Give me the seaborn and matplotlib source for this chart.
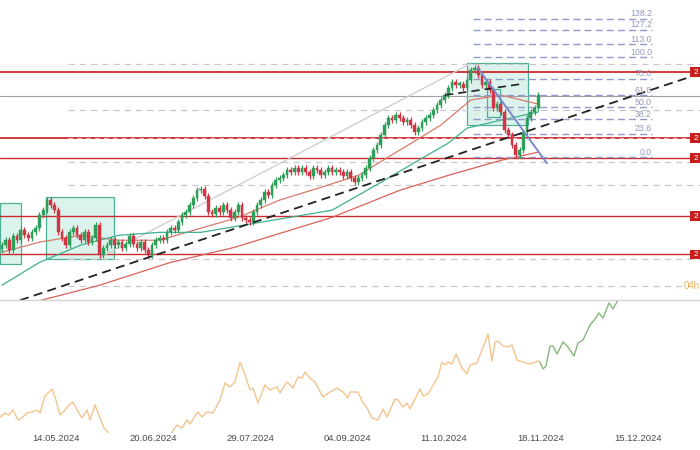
import numpy as np
import pandas as pd
import matplotlib
matplotlib.use("Agg")
import matplotlib.pyplot as plt
from matplotlib.patches import Rectangle
import seaborn as sns

sns.set_theme(style="white")
plt.rcParams['font.family'] = ['Liberation Sans Narrow', 'Liberation Sans', 'DejaVu Sans']

# ---------------- data (gold, daily candles) ----------------
closes = [2310, 2323, 2296, 2334, 2323, 2350, 2336, 2328, 2344, 2355,
          2390, 2403, 2430, 2416, 2403, 2344, 2328, 2310, 2344, 2355,
          2336, 2323, 2344, 2317, 2328, 2363, 2283, 2301, 2310, 2323,
          2310, 2317, 2301, 2312, 2334, 2312, 2301, 2317, 2296, 2283,
          2310, 2323, 2328, 2323, 2344, 2355, 2350, 2371, 2390, 2398,
          2416, 2435, 2456, 2460, 2440, 2398, 2392, 2408, 2398, 2416,
          2403, 2382, 2398, 2416, 2382, 2376, 2371, 2398, 2416, 2430,
          2451, 2443, 2470, 2483, 2488, 2496, 2510, 2504, 2515, 2504,
          2515, 2504, 2494, 2515, 2510, 2496, 2504, 2515, 2504, 2510,
          2504, 2494, 2504, 2488, 2478, 2488, 2496, 2515, 2542, 2563,
          2576, 2603, 2630, 2649, 2643, 2657, 2649, 2638, 2643, 2630,
          2611, 2622, 2638, 2649, 2657, 2670, 2683, 2697, 2710, 2729,
          2745, 2737, 2739, 2729, 2750, 2777, 2782, 2763, 2737, 2745,
          2723, 2675, 2686, 2665, 2617, 2603, 2576, 2550, 2563, 2611,
          2649, 2665, 2675, 2710]
first_open = 2300

fast_ma_idx = [0, 10, 21, 31, 42, 53, 63, 74, 85, 95, 106, 117, 125, 133, 143]
fast_ma_val = [2291, 2318, 2336, 2323, 2323, 2355, 2384, 2430, 2464, 2496, 2563, 2630, 2697, 2710, 2686]
mid_ma_idx = [0, 10, 21, 31, 42, 53, 88, 102, 111, 119, 124, 133, 143]
mid_ma_val = [2203, 2264, 2310, 2336, 2344, 2344, 2403, 2483, 2536, 2582, 2622, 2643, 2665]
slow_ma_idx = [0, 26, 45, 62, 88, 106, 119, 133, 143]
slow_ma_val = [2136, 2203, 2264, 2304, 2384, 2456, 2496, 2536, 2558]

red_levels = [2771, 2595, 2542, 2387, 2285]
gray_level = 2707
dashed_levels = [2793, 2670, 2531, 2470, 2272, 2200]
fib_low, fib_high = 2544, 2811
fib_ratios = [0.0, 23.6, 38.2, 50.0, 61.8, 78.6, 100.0, 113.0, 127.2, 138.2]

# lower panel: oscillator-like line
osc_t = [0, 5, 9, 13, 18, 22, 27, 32, 37, 40, 45, 49, 52, 56, 60, 65, 68, 73, 77, 82,
         87, 90, 95, 100, 104, 108, 112, 120, 135, 150, 162, 168, 172, 177, 182, 187, 190, 195,
         198, 202, 207, 213, 220, 225, 230, 235, 240, 245, 250, 253, 258, 265, 270, 277,
         280, 287, 293, 298, 302, 305, 310, 315, 323, 330, 337, 343, 348, 350, 358, 363,
         367, 372, 378, 383, 387, 395, 398, 403, 407, 410, 420, 423, 428, 438, 442, 445,
         448, 452, 456, 462, 467, 470, 477, 482, 488, 492, 495, 498, 503, 508, 512, 517,
         523, 530, 538, 540]
osc_v = [33, 37, 35, 40, 30, 32, 37, 38, 40, 37, 54, 58, 61, 50, 35, 40, 44, 48, 40, 32,
         40, 30, 45, 32, 22, 18, 12, 2, -5, -8, -2, 10, 18, 25, 22, 30, 26, 34,
         38, 33, 38, 37, 50, 67, 63, 68, 88, 75, 60, 62, 47, 65, 60, 63,
         57, 68, 62, 73, 72, 78, 72, 68, 53, 58, 62, 58, 52, 58, 58, 47,
         42, 32, 30, 41, 33, 51, 50, 43, 47, 41, 61, 54, 56, 73, 88, 85,
         88, 86, 96, 82, 76, 85, 87, 100, 116, 89, 108, 109, 104, 103, 105, 90,
         88, 86, 89, 88]
osc_green_t = [540, 543, 546, 550, 553, 557, 563, 568, 574, 578, 583, 590, 595, 599, 603, 609, 613, 618, 622]
osc_green_v = [88, 81, 84, 104, 104, 96, 108, 103, 94, 107, 110, 125, 131, 137, 132, 147, 141, 150, 156]

date_ticks = [56, 153, 250, 347, 444, 541, 638]
date_labels = ["14.05.2024", "20.06.2024", "29.07.2024", "04.09.2024",
               "11.10.2024", "18.11.2024", "15.12.2024"]

# ---------------- figure ----------------
fig = plt.figure(figsize=(7, 4.5), dpi=100)
ax = fig.add_axes([0, 150 / 450, 1, 300 / 450])
axb = fig.add_axes([0, 17 / 450, 1, 133 / 450])

UP = "#2e9e58"
DN = "#d13545"
TEAL = "#3aa88c"

n = len(closes)
idx = np.arange(n)
opens = [first_open] + closes[:-1]
o = np.array(opens, float)
c = np.array(closes, float)
hi = np.maximum(o, c) + 8
lo = np.minimum(o, c) - 8
cols = [UP if cc >= oo else DN for oo, cc in zip(o, c)]

ax.set_xlim(-0.53, 186.1)
ax.set_ylim(2163.6, 2963.6)
ax.axis("off")

# boxes
boxes = [(-0.53, 2258.7, 5.6, 163), (11.7, 2272, 18.2, 165.6),
         (124.0, 2629.9, 16.3, 165.5), (129.3, 2651, 3.5, 75)]
for bx, by, bw, bh in boxes:
    ax.add_patch(Rectangle((bx, by), bw, bh, facecolor="#d8f2ea", edgecolor=TEAL,
                           lw=0.9, alpha=0.9, zorder=1))

# horizontal levels
for lv in dashed_levels[:-1]:
    ax.plot([17.6, 186.1], [lv, lv], color="#c8c8cc", lw=0.9, ls=(0, (5, 4)), zorder=1.5)
ax.plot([17.6, 181.5], [dashed_levels[-1]] * 2, color="#c8c8cc", lw=0.9, ls=(0, (5, 4)), zorder=1.5)
ax.axhline(gray_level, color="#a0a0a0", lw=0.8, zorder=1.6)
for k, lv in enumerate(red_levels):
    ax.axhline(lv, color="#cc2a2a", lw=1.3 if k in (0, 1) else 1.0, zorder=1.7)
ax.plot([17.6, 186.1], [2595, 2595], color="#f0b8b8", lw=0.8, ls=(0, (4, 4)), zorder=1.8)

# trend lines
ax.plot([26.1, 124.8], [2277, 2793], color="#cfcfcf", lw=1.0, zorder=1.9)
ax.plot([4.8, 184.8], [2163, 2763], color="#222222", lw=1.3, ls=(0, (5, 3)), zorder=4)
ax.plot([118.1, 138.1], [2710, 2739], color="#222222", lw=1.2, ls=(0, (5, 3)), zorder=4)

# moving averages
sns.lineplot(x=fast_ma_idx, y=fast_ma_val, ax=ax, color="#d77a6a", lw=0.9, zorder=2)
sns.lineplot(x=mid_ma_idx, y=mid_ma_val, ax=ax, color="#3fb08e", lw=0.9, zorder=2)
sns.lineplot(x=slow_ma_idx, y=slow_ma_val, ax=ax, color="#d9625a", lw=0.9, zorder=2)

# candles
ax.vlines(idx, lo, hi, colors=cols, lw=0.9, zorder=3)
body = np.where(np.abs(c - o) < 4, 4, c - o)
ax.bar(idx, body, bottom=o, width=0.72, color=cols, edgecolor=cols, lw=0.3, zorder=3.2)

# fibonacci
for r in fib_ratios:
    lv = fib_low + r / 100 * (fib_high - fib_low)
    ax.plot([125.6, 173.3], [lv, lv], color="#9399c9", lw=1.0, ls=(0, (5, 3)), zorder=2.5)
    ax.text(173.3, lv + 1.5, f"{r:.1f}", ha="right", va="bottom", fontsize=6.3,
            color="#9499bb", zorder=5)

ax.plot([126.9, 145.3], [2782, 2528], color="#7d88c8", lw=1.4, zorder=4.5)

# right-hand price tags
for lv in red_levels:
    ax.add_patch(Rectangle((183.5, lv - 13), 3, 26, facecolor="#c81e1e",
                           edgecolor="none", zorder=6, clip_on=False))
    ax.text(184.4, lv, "2", color="white", fontsize=6, ha="left", va="center", zorder=7)
ax.text(181.7, 2200, "04h", color="#eab15a", fontsize=7, ha="left", va="center", zorder=7)

# ---------------- lower panel ----------------
sns.lineplot(x=osc_t, y=osc_v, ax=axb, color="#f3c48e", lw=1.0, sort=False)
sns.lineplot(x=osc_green_t, y=osc_green_v, ax=axb, color="#86b97c", lw=1.0, sort=False)
axb.set_xlim(0, 700)
axb.set_ylim(17, 150)
for s in ["left", "right", "bottom"]:
    axb.spines[s].set_visible(False)
axb.spines["top"].set_color("#d4d4d4")
axb.spines["top"].set_linewidth(1.0)
axb.set_yticks([])
axb.set_xticks(date_ticks)
axb.set_xticklabels(date_labels, fontsize=6.8, color="#4a4a4a")
axb.tick_params(axis="x", length=0, pad=1)
axb.set_xlabel("")
axb.set_ylabel("")
axb.patch.set_alpha(0)

fig.savefig("out.png", dpi=100)
